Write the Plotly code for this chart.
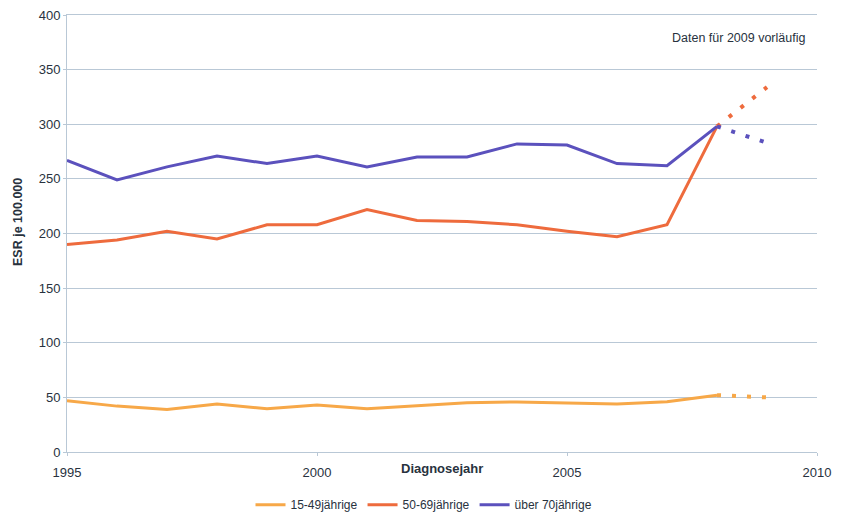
import plotly.graph_objects as go

years = [1995, 1996, 1997, 1998, 1999, 2000, 2001, 2002, 2003, 2004, 2005, 2006, 2007, 2008]
age_15_49 = [47, 42, 39, 44, 39.5, 43, 39.5, 42, 45, 45.8, 45, 44, 46, 52]
age_50_69 = [190, 194, 202, 195, 208, 208, 222, 212, 211, 208, 202, 197, 208, 298]
age_70_plus = [267, 249, 261, 271, 264, 271, 261, 270, 270, 282, 281, 264, 262, 298]

prelim_years = [2008, 2009]
prelim_15_49 = [52, 50]
prelim_50_69 = [298, 334]
prelim_70_plus = [298, 283]

names = ["15-49jährige", "50-69jährige", "über 70jährige"]
colors = ["#f7a848", "#ee6b3d", "#5b51bd"]

fig = go.Figure()
for name, vals, col in zip(names, [age_15_49, age_50_69, age_70_plus], colors):
    fig.add_trace(go.Scatter(x=years, y=vals, mode="lines", name=name,
                             line=dict(color=col, width=3)))
for vals, col in zip([prelim_15_49, prelim_50_69, prelim_70_plus], colors):
    fig.add_trace(go.Scatter(x=prelim_years, y=vals, mode="lines", showlegend=False,
                             line=dict(color=col, width=4, dash="4px,11px")))

grid = "#b9c8d6"
txt = "#28323e"
fig.update_layout(
    width=848, height=513,
    margin=dict(l=67, r=31, t=15, b=61),
    paper_bgcolor="white", plot_bgcolor="white",
    font=dict(family="Liberation Sans, Arial, sans-serif", size=13, color=txt),
    showlegend=True,
    legend=dict(orientation="h", x=0.5, xanchor="center", xref="container",
                y=0.016, yanchor="middle", yref="container",
                font=dict(size=12), itemwidth=30, tracegroupgap=0,
                bgcolor="rgba(0,0,0,0)"),
    xaxis=dict(range=[1995, 2010], tickvals=[1995, 2000, 2005, 2010], ticks="outside",
               ticklen=3, tickcolor=grid, showgrid=False, showline=True, linecolor=grid,
               linewidth=1, mirror=True, zeroline=False, automargin=False,
               ticklabelstandoff=5),
    yaxis=dict(range=[0, 400], dtick=50, showgrid=True, gridcolor=grid, gridwidth=1,
               showline=True, linecolor=grid, linewidth=1, zeroline=False,
               ticks="outside", ticklen=3, tickcolor=grid, automargin=False),
    annotations=[
        dict(text="Daten für 2009 vorläufig", x=807, y=38, xref="paper", yref="paper",
             showarrow=False, xanchor="right", yanchor="middle",
             font=dict(size=12.5, color=txt)),
        dict(text="<b>Diagnosejahr</b>", x=0.5, y=-16 / 437, xref="paper", yref="paper",
             showarrow=False, xanchor="center", yanchor="middle",
             font=dict(size=13, color=txt)),
        dict(text="<b>ESR je 100.000</b>", x=-49 / 750, y=(452 - 222) / 437,
             xref="paper", yref="paper", textangle=-90, showarrow=False,
             xanchor="center", yanchor="middle", font=dict(size=12.5, color=txt)),
    ],
)
# place the note in pixel terms relative to the plot area
fig.layout.annotations[0].update(x=(807 - 67) / 750, y=(452 - 38) / 437)
fig.write_html("out.html")
